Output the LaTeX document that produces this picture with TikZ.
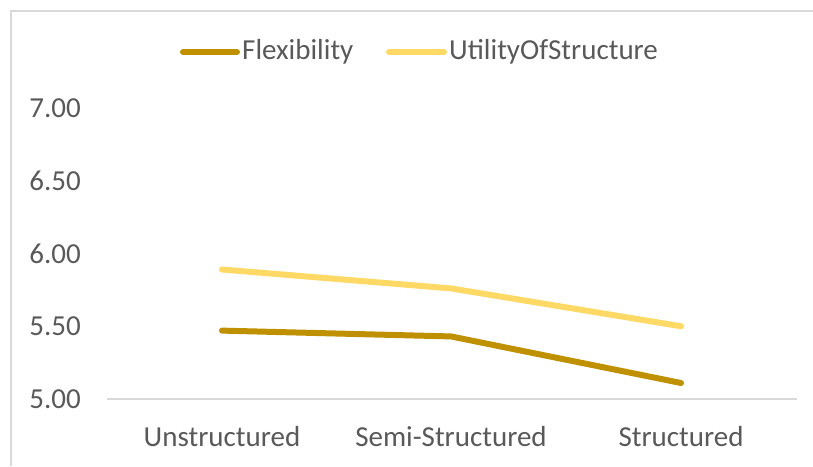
\documentclass[tikz,border=0pt]{standalone}
\usepackage{fontspec}
\setmainfont{Carlito}
\usepackage{tikz}
\usetikzlibrary{positioning}
\definecolor{inkgray}{HTML}{595959}
\definecolor{gridgray}{HTML}{D9D9D9}
\definecolor{flexgold}{HTML}{BF9000}
\definecolor{utilyellow}{HTML}{FFD966}
\tikzset{
  seriesline/.style={line width=6pt,line cap=round,line join=round},
  axislabel/.style={text=inkgray,inner sep=0pt,font=\fontsize{29}{34}\selectfont},
  framerule/.style={draw=gridgray,line width=2pt}
}

\begin{document}
\begin{tikzpicture}[x=1pt,y=1pt]
  \useasboundingbox (0,0) rectangle (813,466);
  % chart frame (left and top edges only visible)
  \draw[framerule] (11,0) -- (11,455) -- (813,455);
  % legend
  \coordinate (flexa) at (183,414);
  \coordinate (flexb) at (237,414);
  \draw[seriesline,flexgold] (flexa) -- (flexb);
  \node[axislabel,anchor=west] (flexlab) at (242,414) {Flexibility};
  \coordinate (utila) at (389,414);
  \coordinate (utilb) at (444,414);
  \draw[seriesline,utilyellow] (utila) -- (utilb);
  \node[axislabel,anchor=west] (utillab) at (449,414) {UtilityOfStructure};
  % plot area, y in data units above 5.00
  \begin{scope}[shift={(0,67)},y=145.5pt]
    \coordinate (axl) at (107,0);
    \coordinate (axr) at (797,0);
    \draw[framerule] (axl) -- (axr);
    \foreach \v/\lab in {0/5.00,0.5/5.50,1/6.00,1.5/6.50,2/7.00}
      \node[axislabel,anchor=east] at (81,\v) {\lab};
    \node[axislabel] (cat1) at (222,-0.261) {Unstructured};
    \node[axislabel] (cat2) at (451,-0.261) {Semi-Structured};
    \node[axislabel] (cat3) at (681,-0.261) {Structured};
    \draw[seriesline,utilyellow] (222,0.89) -- (451,0.76) -- (681,0.50);
    \draw[seriesline,flexgold] (222,0.47) -- (451,0.43) -- (681,0.11);
  \end{scope}
\end{tikzpicture}
\end{document}
